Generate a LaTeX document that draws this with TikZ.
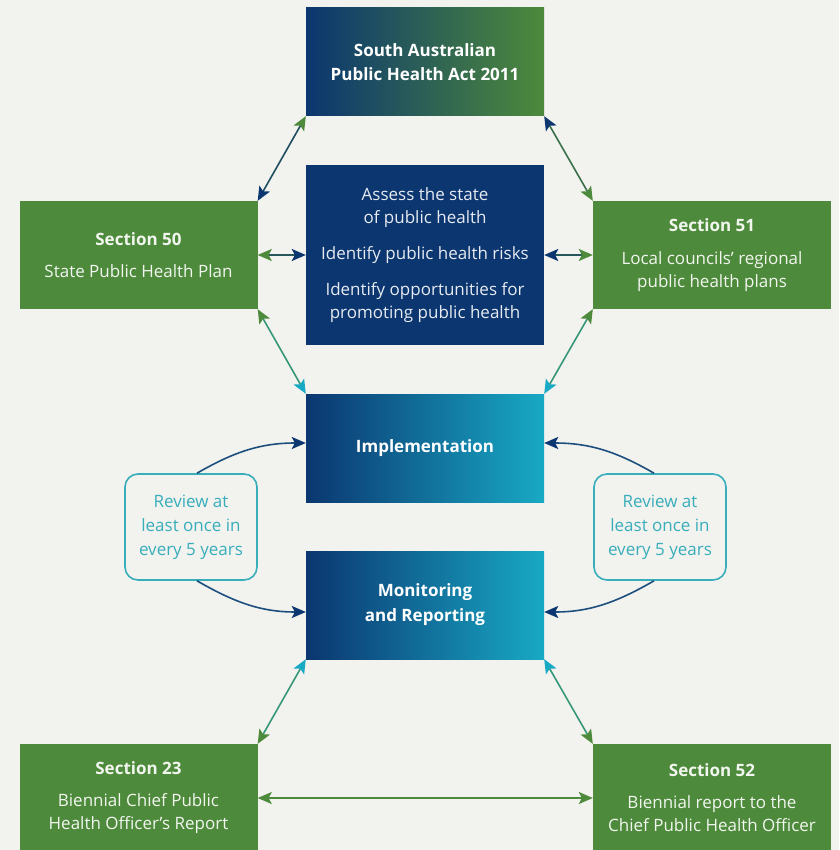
\documentclass[tikz,border=0pt]{standalone}
\usepackage{fontspec}
\setmainfont{Open Sans}
\usetikzlibrary{arrows.meta}
\definecolor{bg}{HTML}{F2F2EE}
\definecolor{dblue}{HTML}{0B3670}
\definecolor{midblue}{HTML}{0D447C}
\definecolor{agreen}{HTML}{4E8A3B}
\definecolor{mycyan}{HTML}{18A9C5}
\definecolor{tealb}{HTML}{38AEBB}
\definecolor{curveblue}{HTML}{1D4F7E}
\tikzset{
  box/.style={minimum width=238pt, minimum height=108pt, inner sep=0pt, align=center,
    text=white!92!agreen, font=\fontsize{17}{23}\selectfont},
  greenbox/.style={box, fill=agreen},
  bluebox/.style={box, fill=dblue, minimum height=180pt, text=white!90!dblue},
  gradgreen/.style={box, left color=dblue, right color=agreen, text=white, font=\fontsize{17}{24}\selectfont\bfseries},
  gradcyan/.style={box, left color=dblue, middle color=midblue, right color=mycyan, text=white, font=\fontsize{17}{25}\selectfont\bfseries},
  reviewbox/.style={draw=tealb, line width=1.6pt, rounded corners=13pt, fill=bg,
    minimum width=132pt, minimum height=106pt, inner sep=0pt, align=center,
    text=tealb, font=\fontsize{17}{24}\selectfont},
  link/.style={line width=1.6pt},
}
\newcommand{\tp}[1]{Stealth[length=14pt,width=12pt,inset=3pt,color=#1]}
\begin{document}
\begin{tikzpicture}[x=1pt, y=-1pt]
\fill[bg] (0,0) rectangle (839,850);
\useasboundingbox (0,0) rectangle (839,850);

\node[gradgreen] (act) at (425,62) {South Australian\\Public Health Act 2011};
\node[bluebox] (assess) at (425,255) {Assess the state\\of public health\\[13pt]Identify public health risks\\[13pt]Identify opportunities for\\promoting public health};
\node[greenbox] (s50) at (138.5,255) {\textbf{Section 50}\\[9pt]State Public Health Plan};
\node[greenbox] (s51) at (712,255) {\textbf{Section 51}\\[10pt]Local councils’ regional\\public health plans};
\node[gradcyan] (impl) at (425,448) {Implementation};
\node[gradcyan] (mon) at (425,605) {Monitoring\\and Reporting};
\node[reviewbox] (revl) at (191,527) {Review at\\least once in\\every 5 years};
\node[reviewbox] (revr) at (660,527) {Review at\\least once in\\every 5 years};
\node[greenbox] (s23) at (138.5,798) {\textbf{Section 23}\\[9pt]Biennial Chief Public\\Health Officer’s Report};
\node[greenbox] (s52) at (712,798) {\textbf{Section 52}\\[9pt]Biennial report to the\\Chief Public Health Officer};

% top connectors
\draw[link, draw=dblue!70!agreen, {\tp{agreen}}-{\tp{dblue}}] (act.south west) -- (s50.north east);
\draw[link, draw=agreen!70!dblue, {\tp{dblue}}-{\tp{agreen}}] (act.south east) -- (s51.north west);
% horizontal to assess
\draw[link, draw=dblue!60!agreen, {\tp{agreen}}-{\tp{dblue}}] (s50.east) -- (assess.west);
\draw[link, draw=dblue!60!agreen, {\tp{agreen}}-{\tp{dblue}}] (s51.west) -- (assess.east);
% to implementation
\draw[link, draw=agreen!55!mycyan, {\tp{agreen}}-{\tp{mycyan}}] (s50.south east) -- (impl.north west);
\draw[link, draw=agreen!55!mycyan, {\tp{agreen}}-{\tp{mycyan}}] (s51.south west) -- (impl.north east);
% review curves
\draw[link, draw=curveblue, -{\tp{dblue}}] ([xshift=6pt]revl.north) to[out=30, in=180] ([yshift=5pt]impl.west);
\draw[link, draw=curveblue, -{\tp{dblue}}] ([xshift=6pt]revl.south) to[out=-30, in=180] ([yshift=-7pt]mon.west);
\draw[link, draw=curveblue, -{\tp{dblue}}] ([xshift=-6pt]revr.north) to[out=150, in=0] ([yshift=5pt]impl.east);
\draw[link, draw=curveblue, -{\tp{dblue}}] ([xshift=-6pt]revr.south) to[out=-150, in=0] ([yshift=-7pt]mon.east);
% to bottom sections
\draw[link, draw=agreen!55!mycyan, {\tp{mycyan}}-{\tp{agreen}}] (mon.south west) -- (s23.north east);
\draw[link, draw=agreen!55!mycyan, {\tp{mycyan}}-{\tp{agreen}}] (mon.south east) -- (s52.north west);
\draw[link, draw=agreen, {\tp{agreen}}-{\tp{agreen}}] (s23.east) -- (s52.west);
\end{tikzpicture}
\end{document}
